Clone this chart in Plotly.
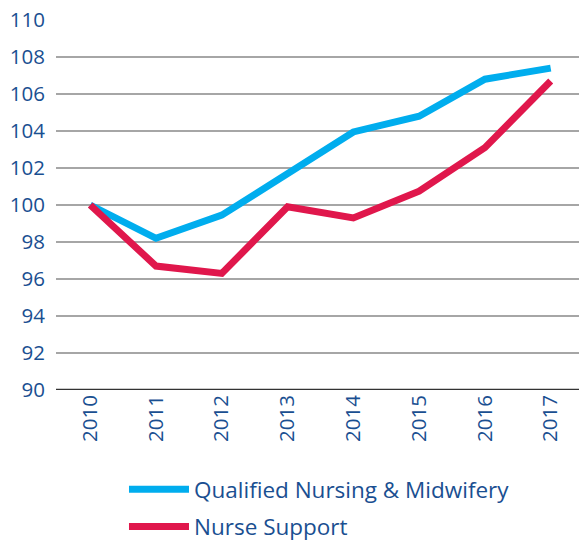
import plotly.graph_objects as go

years = [2010, 2011, 2012, 2013, 2014, 2015, 2016, 2017]
qualified = [100.0, 98.2, 99.45, 101.7, 103.95, 104.8, 106.8, 107.4]
support = [100.0, 96.7, 96.3, 99.9, 99.3, 100.75, 103.1, 106.7]
tick_labels = [str(y) for y in years]
y_ticks = list(range(90, 111, 2))

text_color = "#1a4f91"
font_family = "Open Sans, sans-serif"

fig = go.Figure()
fig.add_trace(go.Scatter(x=years, y=qualified, mode="lines", name="Qualified Nursing & Midwifery",
                         legendgroup="a", line=dict(color="#00ADEE", width=7)))
fig.add_trace(go.Scatter(x=years, y=support, mode="lines", name="Nurse Support",
                         legendgroup="b", line=dict(color="#E0174C", width=7)))

fig.update_layout(
    width=579, height=540,
    margin=dict(l=56, r=0, t=20, b=150),
    paper_bgcolor="white", plot_bgcolor="white",
    font=dict(family=font_family, color=text_color, size=20),
    showlegend=True,
    legend=dict(orientation="v", x=0.13, xanchor="left", xref="paper",
                y=0.133, yanchor="top", yref="container",
                font=dict(size=22.5, color=text_color), itemwidth=60,
                tracegroupgap=5, bgcolor="rgba(0,0,0,0)"),
)
fig.update_xaxes(range=[2009.48, 2017.43], tickvals=years, ticktext=tick_labels,
                 tickangle=-90, showgrid=False, zeroline=False, automargin=False,
                 showline=False, ticks="", tickfont=dict(size=20.5, color=text_color))
fig.update_yaxes(range=[90, 110], tickvals=y_ticks, showgrid=True, gridcolor="#a6a6a6",
                 gridwidth=1.5, zeroline=False, showline=False, ticks="", automargin=False,
                 ticklabelstandoff=10,
                 tickfont=dict(size=20.5, color=text_color))
fig.add_shape(type="line", xref="paper", yref="y", x0=0, x1=1, y0=90, y1=90,
              line=dict(color="#333333", width=2.5), layer="below")

fig.write_html("out.html", config={"displayModeBar": False},
               post_script="document.body.style.margin='0';document.body.style.overflow='hidden';")
